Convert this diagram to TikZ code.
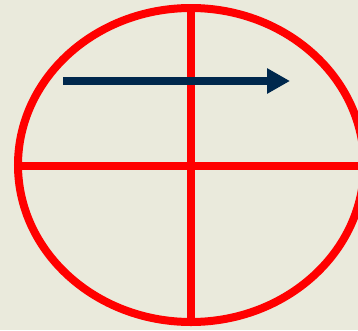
\documentclass[tikz,border=0pt]{standalone}
\usetikzlibrary{arrows.meta}
\definecolor{bgbeige}{RGB}{234,234,220}
\definecolor{navy}{RGB}{0,40,77}
\tikzset{
  redline/.style={draw=red, line width=8pt},
  navyarrow/.style={draw=navy, line width=8pt, -{Triangle[length=23pt,width=24pt]}}
}
\begin{document}
\begin{tikzpicture}[x=1pt,y=-1pt]
\useasboundingbox (0,0) rectangle (358,330);
\fill[bgbeige] (0,0) rectangle (358,330);
\clip (0,0) rectangle (358,330);
\coordinate (c) at (191,165);
\coordinate (top) at (191,8);
\coordinate (bot) at (191,322);
\coordinate (left) at (18,166);
\coordinate (right) at (370,166);
\draw[redline] (c) ellipse [x radius=173, y radius=157];
\draw[redline] (top) -- (bot);
\draw[redline] (left) -- (right);
\coordinate (a0) at (63,81);
\coordinate (a1) at (290,81);
\draw[navyarrow] (a0) -- (a1);
\end{tikzpicture}
\end{document}
